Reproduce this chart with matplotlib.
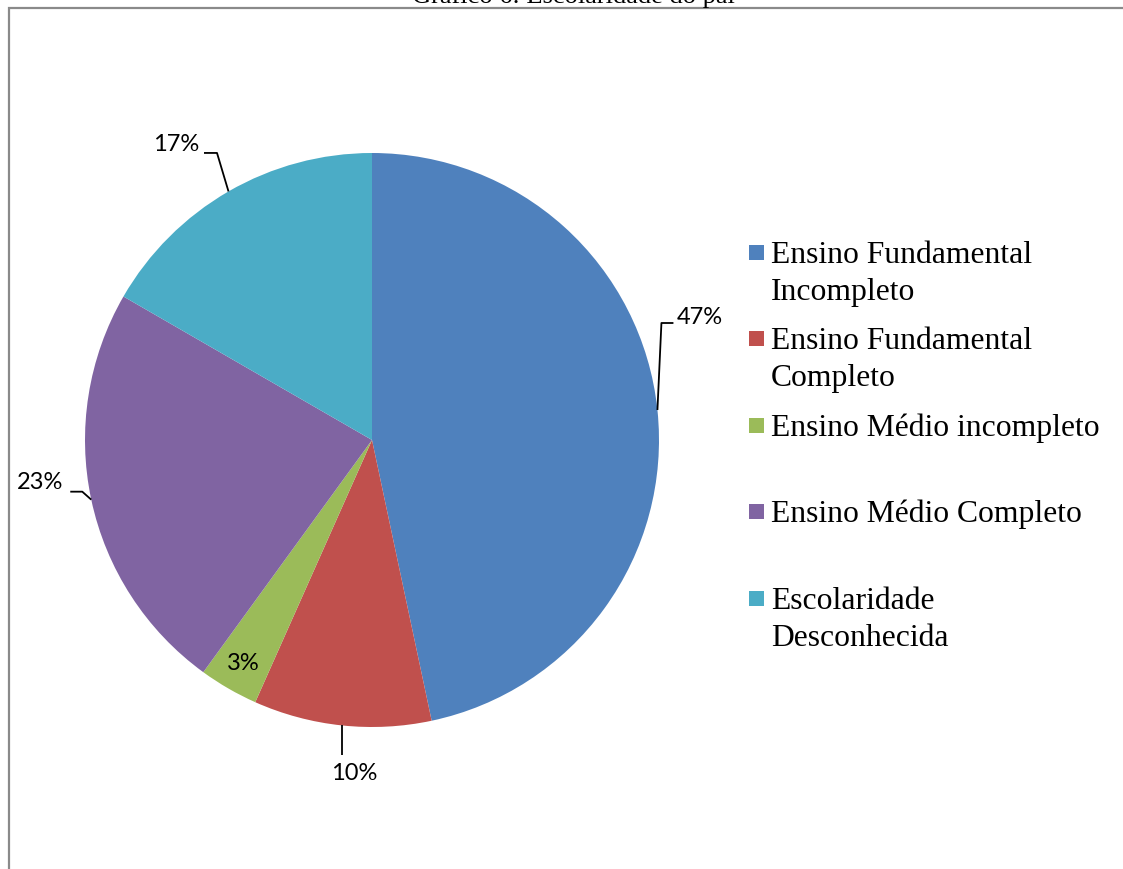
import matplotlib.pyplot as plt
from matplotlib.patches import Rectangle
import numpy as np

# Escolaridade do pai (numero de respostas)
categorias = ["Ensino Fundamental\nIncompleto",
              "Ensino Fundamental\nCompleto",
              "Ensino Médio incompleto",
              "Ensino Médio Completo",
              "Escolaridade\nDesconhecida"]
respostas = [14, 3, 1, 7, 5]
cores = ["#4F81BD", "#C0504D", "#9BBB59", "#8064A2", "#4BACC6"]

W, H = 1123, 869


def px(x, y):
    # pixel coords measured from the top-left corner
    return x, H - y


fig = plt.figure(figsize=(W / 100, H / 100), dpi=100)
ax = fig.add_axes([0, 0, 1, 1])

cx, cy = px(372, 440)
raio = 287
wedges, _ = ax.pie(respostas, colors=cores, startangle=90, counterclock=False,
                   center=(cx, cy), radius=raio,
                   wedgeprops=dict(linewidth=0))
ax.set_xlim(0, W)
ax.set_ylim(0, H)
ax.set_aspect("auto")
ax.axis("off")

total = sum(respostas)
rotulos = ["%d%%" % round(100 * v / total) for v in respostas]

# leader line points and label offsets (pixels, y down) from the wedge edge
guias = [
    [(4, -87), (16, -87)],
    [(0, 30)],
    [],
    [(-9, -8), (-21, -8)],
    [(-11.5, -38.5), (-24.5, -38.5)],
]
offsets = [(42, -93), (12, 48), (15, -25), (-51, -17), (-52.5, -46.5)]

for w, rot, guia, off in zip(wedges, rotulos, guias, offsets):
    ang = np.deg2rad((w.theta1 + w.theta2) / 2)
    ex = cx + raio * np.cos(ang)
    ey = cy + raio * np.sin(ang)
    if guia:
        xs = [ex] + [ex + d[0] for d in guia]
        ys = [ey] + [ey - d[1] for d in guia]
        ax.plot(xs, ys, color="black", lw=1.3, solid_capstyle="butt")
    ax.text(ex + off[0], ey - off[1], rot, ha="center", va="center",
            fontsize=17, family="Lato", color="black")

# legend drawn by hand so the swatch sits on the first text line
base = [263, 349, 436, 522, 609]
for cat, cor, b in zip(categorias, cores, base):
    x0, y0 = px(749, b - 3)
    ax.add_patch(Rectangle((x0, y0), 15, 15, facecolor=cor, edgecolor="none"))
    for i, linha in enumerate(cat.split("\n")):
        tx, ty = px(771, b + i * 37)
        ax.text(tx, ty, linha, ha="left", va="baseline", fontsize=22.8,
                family="Liberation Serif", color="black")

# chart frame (continues past the right and bottom edges)
fx, fy = px(9, 8)
ax.add_patch(Rectangle((fx, -20), W + 20, fy + 20, facecolor="none",
                       edgecolor="#8a8a8a", lw=1.6, clip_on=False))

tx, ty = px(573, 3)
ax.text(tx, ty, "Gráfico 6: Escolaridade do pai", ha="center", va="baseline",
        fontsize=19, family="Liberation Serif", color="black")

fig.savefig("out.png", dpi=100)
